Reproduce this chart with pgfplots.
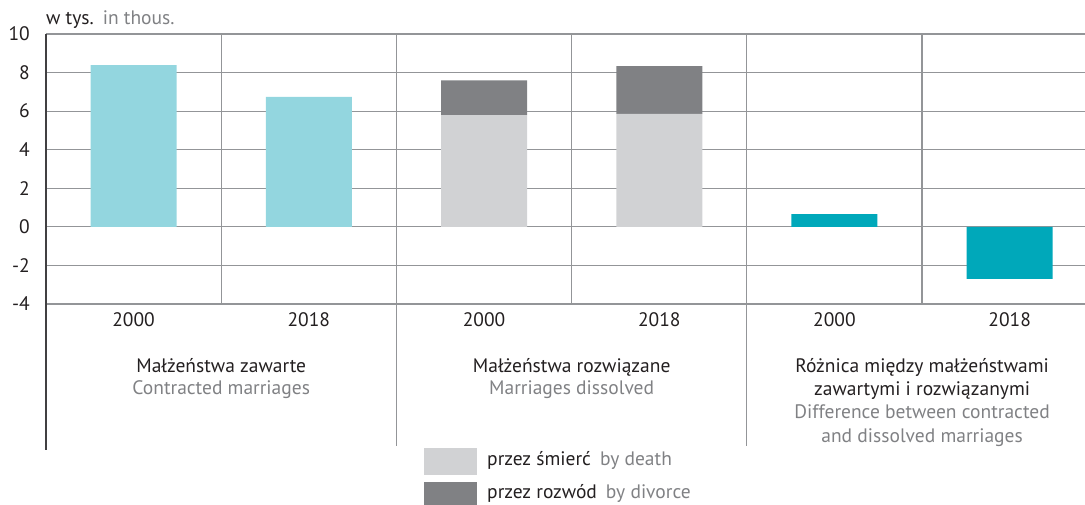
\documentclass[border=0pt]{standalone}
\usepackage{pgfplots}
\pgfplotsset{compat=1.18}
\usepackage{fontspec}
\setmainfont{PT Sans}
\definecolor{lblue}{HTML}{93D6DF}
\definecolor{tealc}{HTML}{00A8BA}
\definecolor{lgray}{HTML}{D1D2D4}
\definecolor{dgray}{HTML}{808184}
\definecolor{txt}{HTML}{231F20}
\definecolor{txtgray}{HTML}{808184}
\definecolor{gridc}{HTML}{939598}
\definecolor{zeroc}{HTML}{414042}
\begin{document}
\begin{tikzpicture}[font=\fontsize{19.5}{23}\selectfont]
\useasboundingbox (-46pt,-201pt) rectangle (1039pt,304pt);
\begin{axis}[
  scale only axis, width=1039pt, height=270pt,
  anchor=south west, at={(0pt,0pt)},
  xmin=-0.5, xmax=5.43, ymin=-4, ymax=10,
  ybar stacked, bar width=86pt,
  axis line style={draw=none},
  major tick length=0pt, minor tick length=0pt,
  ytick={-4,-2,...,10},
  xtick={0,...,5},
  xticklabels={2000,2018,2000,2018,2000,2018},
  minor xtick={0.5,2.5,4.5},
  ymajorgrids, xminorgrids,
  major grid style={draw=gridc, line width=1.2pt},
  minor grid style={draw=gridc, line width=1.2pt},
  extra y ticks={0}, extra y tick labels={},
  extra y tick style={grid style={draw=zeroc, line width=1.3pt}},
  /pgf/number format/assume math mode=true,
  every tick label/.append style={text=txt, font=\fontsize{19.5}{23}\selectfont, inner sep=0pt},
  yticklabel style={anchor=east, xshift=-16pt},
  xticklabel style={anchor=base, yshift=-23pt},
  clip=false,
]
\addplot[fill=lblue, draw=none] coordinates {(0,8.38) (1,6.74) (2,0) (3,0) (4,0) (5,0)};
\addplot[fill=lgray, draw=none] coordinates {(0,0) (1,0) (2,5.79) (3,5.86) (4,0) (5,0)};
\addplot[fill=dgray, draw=none] coordinates {(0,0) (1,0) (2,1.81) (3,2.47) (4,0) (5,0)};
\addplot[fill=tealc, draw=none] coordinates {(0,0) (1,0) (2,0) (3,0) (4,0.66) (5,-2.70)};
\draw[gridc, line width=1.2pt] (axis cs:1.5,10) -- ([yshift=-142pt]axis cs:1.5,-4);
\draw[gridc, line width=1.2pt] (axis cs:3.5,10) -- ([yshift=-142pt]axis cs:3.5,-4);
\draw[zeroc, line width=1.2pt] (axis cs:-0.5,10) -- ([yshift=-146pt]axis cs:-0.5,-4);
\node[anchor=base west, inner sep=0pt, text=txt] at ([yshift=9pt]axis cs:-0.5,10) {w tys.\hspace{9pt}\textcolor{txtgray}{in thous.}};
% group labels
\node[anchor=base, inner sep=0pt, text=txt] at ([yshift=-69pt]axis cs:0.5,-4) {Małżeństwa zawarte};
\node[anchor=base, inner sep=0pt, text=txtgray] at ([yshift=-91pt]axis cs:0.5,-4) {Contracted marriages};
\node[anchor=base, inner sep=0pt, text=txt] at ([yshift=-69pt]axis cs:2.5,-4) {Małżeństwa rozwiązane};
\node[anchor=base, inner sep=0pt, text=txtgray] at ([yshift=-91pt]axis cs:2.5,-4) {Marriages dissolved};
\node[anchor=base, inner sep=0pt, text=txt] at ([yshift=-69pt]axis cs:4.5,-4) {Różnica między małżeństwami};
\node[anchor=base, inner sep=0pt, text=txt] at ([yshift=-92pt]axis cs:4.5,-4) {zawartymi i rozwiązanymi};
\node[anchor=base, inner sep=0pt, text=txtgray] at ([yshift=-115pt]axis cs:4.5,-4) {Difference between contracted};
\node[anchor=base, inner sep=0pt, text=txtgray] at ([yshift=-139pt]axis cs:4.5,-4) {and dissolved marriages};
\end{axis}
% legend
\fill[lgray] (378pt,-144pt) rectangle (431pt,-171pt);
\fill[dgray] (378pt,-178pt) rectangle (431pt,-205pt);
\node[anchor=base west, inner sep=0pt, text=txt] at (441pt,-162pt) {przez śmierć\hspace{9pt}\textcolor{txtgray}{by death}};
\node[anchor=base west, inner sep=0pt, text=txt] at (441pt,-195pt) {przez rozwód\hspace{9pt}\textcolor{txtgray}{by divorce}};
\end{tikzpicture}
\end{document}
